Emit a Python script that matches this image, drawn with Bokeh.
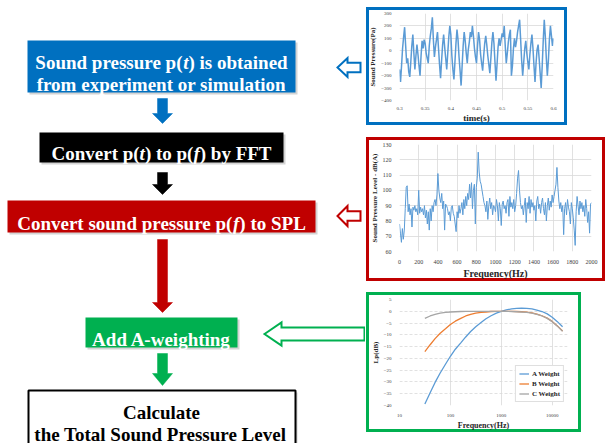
from bokeh.plotting import figure
from bokeh.layouts import row, column
from bokeh.models import Range1d, FixedTicker, Legend, LegendItem
from bokeh.core.properties import value
from bokeh.embed import file_html
from bokeh.resources import INLINE

SERIF = "Liberation Serif"

# ---- time-domain sound pressure, 0.3 s .. 0.6 s ----
t_start = 0.3
t_step = 0.002
pressure_pa = [
    -150, -250, -120, 20, 110, 190, 40, -100, -60, -170,
    -210, -90, 40, 130, -20, -150, -40, 50, -30, -120,
    -200, -40, 80, 20, 90, 60, -20, -60, -100, 40,
    120, 180, 270, 90, -50, 30, 90, 150, 20, -110,
    -220, -80, 50, 130, 30, -60, -150, -20, 110, 200,
    130, -40, -150, -230, -90, 60, 170, 90, -50, -160,
    -280, -120, 40, 150, 80, -20, -100, 10, 70, 150,
    110, 200, 120, 20, -50, -100, 40, 150, 90, -30,
    -100, -160, -40, 60, 120, 50, -40, -110, -180, -60,
    70, 150, 60, -90, -240, -110, 30, 100, 40, 90,
    140, 110, 200, 40, -100, -20, 70, 130, 170, -200,
    -120, 20, 100, 30, 80, 150, 200, 250, 90, -80,
    -200, -90, 20, 80, -20, -90, -150, -30, 60, 130,
    20, -120, -250, -100, 10, 50, -60, -180, -300, -120,
    80, 250, 120, -60, -200, -80, 90, 200, 120, 40,
    100,
]
time_s = [round(t_start + i * t_step, 4) for i in range(len(pressure_pa))]
time_ticks = [0.3, 0.35, 0.4, 0.45, 0.5, 0.55, 0.6]
time_tick_labels = ["0.3", "0.35", "0.4", "0.45", "0.5", "0.55", "0.6"]
pressure_ticks = [-400, -300, -200, -100, 0, 100, 200, 300]

# ---- A-weighted spectrum, 0 .. 2000 Hz in 10 Hz bins ----
f_step = 10
spl_dba = [
    78, 72, 66, 75, 68, 74, 88, 102, 103, 86,
    91, 84, 88, 76, 89, 87, 90, 86, 88, 84,
    100, 85, 89, 86, 88, 84, 90, 82, 87, 78,
    86, 74, 88, 80, 90, 86, 92, 94, 90, 97,
    111, 100, 95, 92, 98, 88, 93, 74, 91, 90,
    88, 84, 86, 80, 89, 90, 85, 83, 78, 73,
    86, 82, 90, 85, 88, 92, 84, 94, 88, 96,
    90, 98, 94, 104, 95, 105, 88, 100, 104, 78,
    102, 108, 125, 112, 106, 104, 100, 96, 92, 90,
    86, 93, 81, 90, 95, 88, 92, 84, 90, 89,
    86, 94, 90, 80, 92, 88, 77, 91, 93, 88,
    90, 85, 92, 94, 83, 96, 89, 92, 88, 94,
    86, 90, 98, 108, 113, 100, 92, 88, 90, 84,
    90, 95, 79, 92, 88, 96, 85, 94, 89, 92,
    87, 90, 80, 93, 96, 88, 91, 85, 92, 95,
    88, 84, 92, 80, 90, 95, 87, 93, 89, 97,
    92, 96, 100, 104, 115, 102, 93, 88, 92, 86,
    90, 71, 88, 92, 84, 94, 89, 86, 78, 92,
    88, 82, 74, 64, 86, 96, 90, 84, 93, 88,
    92, 86, 90, 83, 94, 88, 79, 86, 72, 91,
    92,
]
freq_hz = [i * f_step for i in range(len(spl_dba))]
spl_ticks = [60, 70, 80, 90, 100, 110, 120, 130]
freq_ticks = [0, 200, 400, 600, 800, 1000, 1200, 1400, 1600, 1800, 2000]

# ---- frequency weighting curves (1/3 octave bands) ----
band_hz = [31.5, 40, 50, 63, 80, 100, 125, 160, 200, 250, 315, 400, 500, 630,
           800, 1000, 1250, 1600, 2000, 2500, 3150, 4000, 5000, 6300, 8000,
           10000, 12500, 16000]
a_weight = [-39.4, -34.6, -30.2, -26.2, -22.5, -19.1, -16.1, -13.4, -10.9, -8.6,
            -6.6, -4.8, -3.2, -1.9, -0.8, 0.0, 0.6, 1.0, 1.2, 1.3, 1.2, 1.0,
            0.5, -0.1, -1.1, -2.5, -4.3, -6.6]
b_weight = [-17.1, -14.2, -11.6, -9.3, -7.4, -5.6, -4.2, -3.0, -2.0, -1.3,
            -0.8, -0.5, -0.3, -0.1, 0.0, 0.0, 0.0, 0.0, -0.1, -0.2, -0.4, -0.7,
            -1.2, -1.9, -2.9, -4.3, -6.1, -8.4]
c_weight = [-3.0, -2.0, -1.3, -0.8, -0.5, -0.3, -0.2, -0.1, 0.0, 0.0,
            0.0, 0.0, 0.0, 0.0, 0.0, 0.0, 0.0, -0.1, -0.2, -0.3, -0.5, -0.8,
            -1.3, -2.0, -3.0, -4.4, -6.2, -8.5]
weight_names = ["A Weight", "B Weight", "C Weight"]
weight_ticks_y = [-40, -35, -30, -25, -20, -15, -10, -5, 0, 5]
weight_ticks_x = [10, 100, 1000, 10000]

BLUE = "#0070C0"
RED = "#C00000"
GREEN = "#00B050"
LINE_BLUE = "#5B9BD5"
LINE_ORANGE = "#ED7D31"
LINE_GREY = "#A5A5A5"
TICK_GREY = "#404040"
GRID = "#D9D9D9"
SHADOW = "#B0B0B0"

# ---------------------------------------------------------------- flowchart
W_LEFT, H_ALL = 365, 443
flow = figure(width=W_LEFT, height=H_ALL, x_range=Range1d(0, W_LEFT),
              y_range=Range1d(H_ALL, 0), toolbar_location=None,
              output_backend="svg", min_border=0)
flow.axis.visible = False
flow.grid.visible = False
flow.outline_line_color = None
flow.background_fill_color = "white"
flow.border_fill_color = "white"


def box(left, right, top, bottom, fill, line=None, lw=0):
    # soft drop shadow, then the box itself
    flow.quad(left=[left + 2], right=[right + 2], top=[top + 2], bottom=[bottom + 2],
              fill_color=SHADOW, fill_alpha=0.55, line_color=None)
    flow.quad(left=[left], right=[right], top=[top], bottom=[bottom],
              fill_color=fill, line_color=line, line_width=lw)


box(27, 295, 40, 92, BLUE)
box(39, 283, 132, 162, "black")
box(7, 315, 200, 232, RED)
box(85, 237, 317, 347, GREEN)
box(28, 295, 390, 450, "white", "black", 2)


def down_arrow(color, y0, yh, yt, cx=162, shaft=5, head=10):
    xs = [cx - shaft, cx + shaft, cx + shaft, cx + head, cx, cx - head, cx - shaft]
    ys = [y0, y0, yh, yh, yt, yh, yh]
    flow.patch(xs, ys, fill_color=color, line_color=color, line_width=0.5)


down_arrow(BLUE, 98, 113, 123)
down_arrow("black", 172, 184, 194)
down_arrow(RED, 239, 302, 312)
down_arrow(GREEN, 353, 373, 385)


def left_arrow(color, xt, xh, xe, yc, sh, hh, lw=2):
    xs = [xt, xh, xh, xe, xe, xh, xh]
    ys = [yc, yc - hh, yc - sh, yc - sh, yc + sh, yc + sh, yc + hh]
    flow.patch(xs, ys, fill_color="white", line_color=color, line_width=lw,
               line_join="miter")


left_arrow(BLUE, 337, 347, 360, 67, 4.7, 9.5)
left_arrow(RED, 337, 347, 360, 215.5, 4.7, 10)
left_arrow(GREEN, 264, 281, 364, 333.5, 6.5, 11.5)

# Times-Bold advance widths (1/1000 em) for centring mixed-style lines
ADV = {" ": 250, "(": 333, ")": 333, "-": 333,
       "A": 722, "C": 722, "F": 611, "L": 667, "P": 611, "S": 556, "T": 667,
       "a": 500, "b": 556, "c": 444, "d": 556, "e": 444, "f": 333, "g": 500,
       "h": 556, "i": 278, "l": 278, "m": 833, "n": 556, "o": 500, "p": 556,
       "r": 444, "s": 389, "t": 333, "u": 556, "v": 500, "w": 722, "x": 500,
       "y": 500}
ADV_ITALIC = {"t": 278, "f": 333}
FS = 19


def seg_width(s, italic):
    table = ADV_ITALIC if italic else ADV
    return sum(table.get(ch, ADV.get(ch, 500)) for ch in s) * FS / 1000.0


def styled_line(segments, cx, y, color="white"):
    total = sum(seg_width(s, it) for s, it in segments)
    x = cx - total / 2.0
    for s, it in segments:
        flow.text(x=[x], y=[y], text=[s], text_font=value(SERIF),
                  text_font_style="bold italic" if it else "bold",
                  text_font_size=f"{FS}px", text_color=color,
                  text_align="left", text_baseline="alphabetic")
        x += seg_width(s, it)


CX = 161
styled_line([("Sound pressure p(", False), ("t", True), (") is obtained", False)], CX, 62)
styled_line([("from experiment or simulation", False)], CX, 84)
styled_line([("Convert p(", False), ("t", True), (") to p(", False), ("f", True),
             (") by FFT", False)], CX, 152.5)
styled_line([("Convert sound pressure p(", False), ("f", True), (") to SPL", False)], CX, 223)
styled_line([("Add A-weighting", False)], CX, 338.5)
styled_line([("Calculate", False)], CX, 412, color="black")
styled_line([("the Total Sound Pressure Level", False)], CX, 433.5, color="black")


# ---------------------------------------------------------------- inset charts
BW = 3  # thickness of the coloured frame round each inset


def inset(width, height, color, margin, borders, **kw):
    # the frame is a CSS outline drawn just inside the canvas edge,
    # so it takes no room in the layout
    p = figure(width=width, height=height, toolbar_location=None,
               output_backend="svg", **kw)
    p.min_border_left, p.min_border_right, p.min_border_top, p.min_border_bottom = borders
    p.outline_line_color = None
    p.background_fill_color = "white"
    p.border_fill_color = None
    p.styles = {"outline": f"{BW}px solid {color}", "outline-offset": f"-{BW}px",
                "background-color": "white"}
    p.margin = margin
    for ax in p.axis:
        ax.axis_line_color = None
        ax.major_tick_line_color = None
        ax.minor_tick_line_color = None
        ax.major_label_text_font = SERIF
        ax.major_label_text_color = TICK_GREY
        ax.major_label_standoff = 2
        ax.axis_label_text_font = SERIF
        ax.axis_label_text_font_style = "bold"
        ax.axis_label_text_color = "#262626"
        ax.axis_label_standoff = 1
    p.grid.grid_line_color = GRID
    p.grid.grid_line_width = 0.8
    return p


# time signal
p1 = inset(201, 118, BLUE, (7, 0, 0, 1), (30, 9, 6, 25),
           x_range=Range1d(0.3, 0.6), y_range=Range1d(-400, 300))
p1.line(time_s, pressure_pa, line_color=LINE_BLUE, line_width=1.5)
p1.xaxis.ticker = FixedTicker(ticks=time_ticks)
p1.xaxis.major_label_overrides = dict(zip(time_ticks, time_tick_labels))
p1.yaxis.ticker = FixedTicker(ticks=pressure_ticks)
p1.xaxis.major_label_text_font_size = "5px"
p1.yaxis.major_label_text_font_size = "5px"
p1.xaxis.major_label_standoff = 0
p1.xaxis.axis_label = "time(s)"
p1.xaxis.axis_label_text_font_size = "9px"
p1.xaxis.axis_label_standoff = 0
p1.yaxis.axis_label = "Sound Pressure(Pa)"
p1.yaxis.axis_label_text_font_size = "7px"

# spectrum
p2 = inset(239, 144, RED, (12, 0, 0, 1), (32, 5, 7, 29),
           x_range=Range1d(0, 2000), y_range=Range1d(60, 130))
p2.line(freq_hz, spl_dba, line_color=LINE_BLUE, line_width=1.0)
p2.xaxis.ticker = FixedTicker(ticks=freq_ticks)
p2.yaxis.ticker = FixedTicker(ticks=spl_ticks)
p2.xaxis.major_label_text_font_size = "6px"
p2.yaxis.major_label_text_font_size = "6px"
p2.xaxis.axis_label = "Frequency(Hz)"
p2.xaxis.axis_label_text_font_size = "10px"
p2.yaxis.axis_label = "Sound Pressure Level - dB(A)"
p2.yaxis.axis_label_text_font_size = "7px"

# weighting curves
p3 = inset(215, 140, GREEN, (11, 0, 0, 1), (31, 14, 7, 27),
           x_axis_type="log", x_range=Range1d(10, 20000), y_range=Range1d(-40, 5))
ra = p3.line(band_hz, a_weight, line_color=LINE_BLUE, line_width=1.3)
rb = p3.line(band_hz, b_weight, line_color=LINE_ORANGE, line_width=1.3)
rc = p3.line(band_hz, c_weight, line_color=LINE_GREY, line_width=1.3)
p3.xaxis.ticker = FixedTicker(ticks=weight_ticks_x)
p3.xaxis.major_label_overrides = {v: str(v) for v in weight_ticks_x}
p3.yaxis.ticker = FixedTicker(ticks=weight_ticks_y)
p3.xaxis.major_label_text_font_size = "5px"
p3.yaxis.major_label_text_font_size = "5px"
p3.xaxis.axis_label = "Frequency(Hz)"
p3.xaxis.axis_label_text_font_size = "8px"
p3.yaxis.axis_label = "Lp(dB)"
p3.yaxis.axis_label_text_font_size = "7px"
p3.ygrid.grid_line_dash = "3 2"
p3.xgrid.minor_grid_line_color = None
legend = Legend(items=[LegendItem(label=n, renderers=[r])
                       for n, r in zip(weight_names, [ra, rb, rc])],
                location="bottom_right")
legend.label_text_font = SERIF
legend.label_text_font_style = "bold"
legend.label_text_font_size = "7px"
legend.label_text_color = "#262626"
legend.label_height = 9
legend.label_standoff = 3
legend.glyph_width = 10
legend.glyph_height = 9
legend.spacing = 1
legend.padding = 3
legend.margin = 3
legend.border_line_color = "#BFBFBF"
legend.border_line_width = 0.8
p3.add_layout(legend)

layout = row(flow, column(p1, p2, p3, spacing=0), spacing=0)

open("out.html", "w").write(file_html(layout, INLINE))
